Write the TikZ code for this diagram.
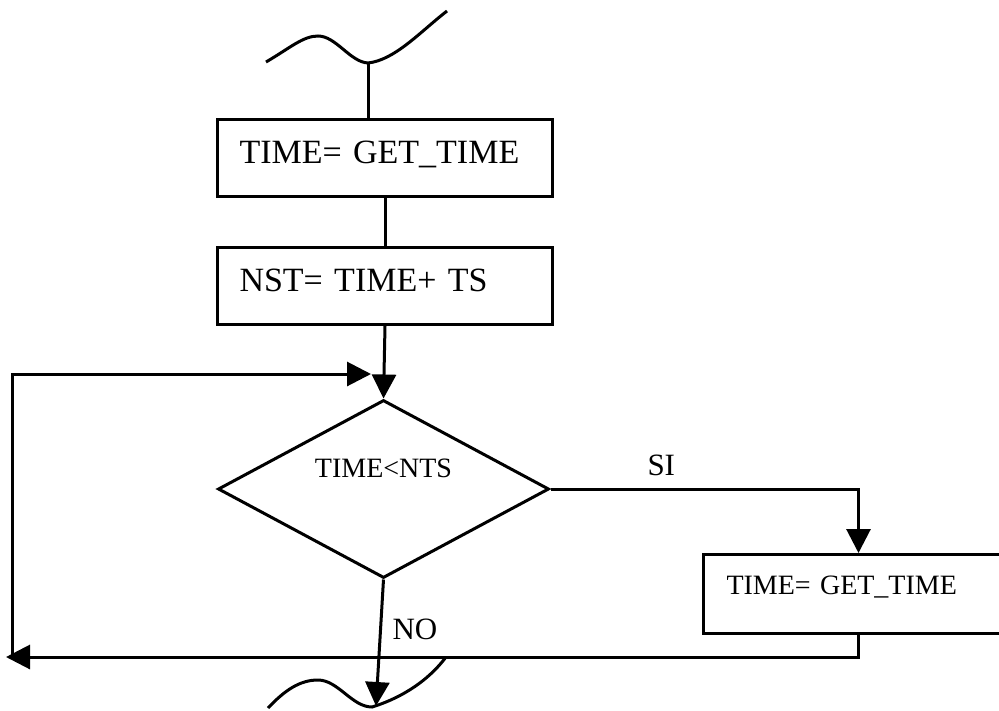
\documentclass[tikz,border=0pt]{standalone}
\usepackage{fontspec}
\setmainfont{Liberation Serif}
\usetikzlibrary{arrows.meta,shapes.geometric}
\begin{document}
\begin{tikzpicture}[x=1pt,y=-1pt,
  line width=3pt,
  arr/.style={-{Triangle[length=24pt,width=24pt]}},
  procbox/.style={draw, anchor=north west, inner xsep=22pt, inner ysep=0pt,
    align=left, font=\fontsize{34}{38}\selectfont},
  decision/.style={draw, diamond, shape aspect=1.86, minimum width=331pt,
    minimum height=178pt, inner sep=0pt, text height=20pt, text depth=44pt,
    font=\fontsize{28}{30}\selectfont},
  lbl/.style={font=\fontsize{31}{34}\selectfont, inner sep=0pt}]
\useasboundingbox (0,0) rectangle (999,710);
\clip (0,0) rectangle (999,710);

% process boxes
\node[procbox, text width=291pt, text height=44pt, text depth=33pt]
  (b1) at (216,118) {TIME= GET\_TIME};
\node[procbox, text width=291pt, text height=44pt, text depth=33pt]
  (b2) at (216,246) {NST= TIME+ TS};
\node[decision] (d) at (383.5,489) {TIME<NTS};
\node[procbox, inner xsep=23pt, text width=264pt, text height=40pt, text depth=39pt,
  font=\fontsize{28}{30}\selectfont] (b3) at (702,553) {TIME= GET\_TIME};

% branch labels
\node[lbl, anchor=west] (si) at (646,465) {SI};
\node[lbl, anchor=west] (no) at (391,629) {NO};

% break marks above and below
\coordinate (tj) at (368,63);
\draw (266,62) .. controls (290,48) and (303,36) .. (318,36)
  .. controls (336,36) and (350,62) .. (tj)
  .. controls (395,60) and (420,32) .. (447,11);
\coordinate (bj) at (372,707);
\draw (268,708) .. controls (285,690) and (300,680) .. (318,680)
  .. controls (338,680) and (352,707) .. (bj)
  .. controls (395,700) and (425,685) .. (446,657);

% connectors
\draw (tj) -- (tj |- b1.north);
\draw (b1.south) -- (b2.north);
\draw[arr] (b2.south) -- (d.north);
\draw[arr] (d.east) -| (b3.north);
\coordinate (noend) at (376,706);
\draw[arr] (d.south) -- (noend);
\coordinate (leftend) at (6,657);
\draw[arr] (b3.south) |- (leftend);
\coordinate (loopcorner) at (12,657);
\coordinate (loopin) at (371,374);
\draw[arr] (loopcorner) |- (loopin);
\end{tikzpicture}
\end{document}
